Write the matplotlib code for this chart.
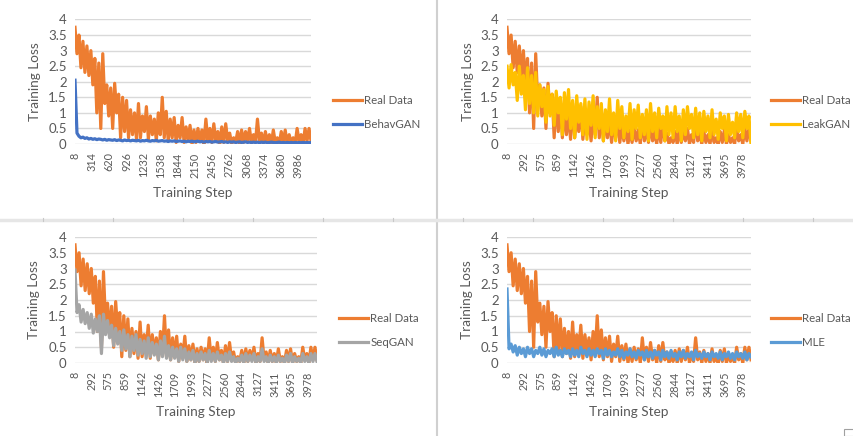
import numpy as np
import matplotlib
matplotlib.use("Agg")
import matplotlib.pyplot as plt
from matplotlib.lines import Line2D

plt.rcParams['font.family'] = ['Lato', 'DejaVu Sans']

# training loss (same real-data curve in each)
real_data = [
    3.75, 2.9, 3.5, 2.45, 3.3, 2.3, 3.15, 2.2, 3.0, 1.9,
    2.75, 1.0, 2.6, 0.5, 2.9, 1.3, 1.9, 0.9, 1.8, 0.5,
    1.95, 1.0, 1.6, 0.2, 1.5, 0.4, 1.4, 0.2, 1.1, 0.3,
    1.0, 0.15, 1.3, 0.2, 0.9, 0.4, 1.2, 0.15, 0.9, 0.3,
    0.8, 0.1, 1.0, 0.3, 1.5, 0.2, 1.05, 0.1, 0.8, 0.2,
    0.85, 0.05, 0.6, 0.2, 0.85, 0.05, 0.55, 0.1, 0.6, 0.0,
    0.45, 0.05, 0.5, 0.1, 0.45, 0.0, 0.8, 0.1, 0.5, 0.05,
    0.65, 0.1, 0.4, 0.0, 0.55, 0.05, 0.65, 0.1, 0.35, 0.0,
    0.2, 0.05, 0.4, 0.0, 0.45, 0.05, 0.4, 0.1, 0.5, 0.0,
    0.3, 0.05, 0.8, 0.1, 0.35, 0.0, 0.4, 0.05, 0.3, 0.0,
    0.45, 0.05, 0.2, 0.0, 0.4, 0.05, 0.45, 0.0, 0.3, 0.05,
    0.2, 0.0, 0.5, 0.1, 0.3, 0.0, 0.5, 0.1, 0.5, 0.1,
]
behavgan = [
    2.05, 0.35, 0.25, 0.2, 0.22, 0.18, 0.2, 0.16, 0.18, 0.15,
    0.17, 0.14, 0.16, 0.15, 0.13, 0.15, 0.12, 0.14, 0.13, 0.12,
    0.14, 0.11, 0.13, 0.12, 0.1, 0.13, 0.11, 0.12, 0.1, 0.12,
    0.11, 0.1, 0.12, 0.09, 0.11, 0.1, 0.12, 0.1, 0.09, 0.11,
    0.1, 0.12, 0.09, 0.1, 0.11, 0.09, 0.1, 0.08, 0.1, 0.09,
    0.1, 0.08, 0.09, 0.1, 0.08, 0.09, 0.07, 0.09, 0.08, 0.09,
    0.07, 0.08, 0.09, 0.07, 0.08, 0.06, 0.08, 0.07, 0.08, 0.06,
    0.07, 0.08, 0.06, 0.07, 0.08, 0.06, 0.07, 0.05, 0.07, 0.06,
    0.07, 0.05, 0.06, 0.07, 0.05, 0.06, 0.07, 0.05, 0.06, 0.05,
    0.06, 0.05, 0.06, 0.04, 0.06, 0.05, 0.06, 0.04, 0.05, 0.06,
    0.05, 0.04, 0.05, 0.06, 0.04, 0.05, 0.04, 0.05, 0.04, 0.05,
    0.04, 0.05, 0.04, 0.05, 0.04, 0.05, 0.04, 0.05, 0.04, 0.05,
]
leakgan = [
    2.5, 1.8, 2.55, 1.9, 2.3, 1.4, 2.5, 1.6, 2.2, 1.1,
    2.45, 1.3, 2.2, 1.0, 2.3, 0.9, 1.9, 1.2, 1.75, 0.7,
    1.85, 0.9, 1.6, 0.6, 1.7, 1.0, 1.5, 0.3, 1.65, 0.8,
    1.75, 0.5, 1.4, 0.2, 1.55, 0.7, 1.3, 0.3, 1.45, 0.15,
    1.35, 0.6, 1.55, 0.2, 1.2, 0.5, 1.3, 0.1, 1.1, 0.4,
    1.45, 0.3, 1.0, 0.1, 1.4, 0.5, 1.2, 0.2, 0.9, 0.4,
    1.3, 0.15, 1.1, 0.5, 1.25, 0.2, 0.95, 0.3, 1.1, 0.1,
    1.3, 0.4, 1.0, 0.2, 1.15, 0.5, 0.9, 0.1, 1.2, 0.3,
    1.0, 0.2, 1.2, 0.4, 0.9, 0.1, 1.1, 0.3, 1.2, 0.5,
    0.95, 0.2, 1.15, 0.3, 1.0, 0.1, 1.05, 0.4, 0.9, 0.2,
    1.1, 0.3, 0.8, 0.15, 1.0, 0.5, 0.9, 0.1, 0.95, 0.3,
    0.7, 0.2, 1.0, 0.4, 0.95, 0.2, 1.05, 0.5, 0.9, 0.0,
]
seqgan = [
    2.95, 1.6, 1.85, 1.3, 1.7, 1.25, 1.6, 1.1, 1.55, 0.95,
    1.4, 1.0, 1.5, 0.3, 1.55, 0.9, 1.35, 0.8, 1.2, 0.55,
    1.1, 0.6, 1.0, 0.4, 1.05, 0.45, 0.9, 0.2, 0.85, 0.4,
    0.9, 0.25, 0.75, 0.3, 0.7, 0.15, 0.8, 0.2, 0.65, 0.25,
    0.6, 0.1, 0.7, 0.2, 0.85, 0.15, 0.55, 0.1, 0.5, 0.15,
    0.45, 0.05, 0.5, 0.1, 0.45, 0.05, 0.35, 0.1, 0.4, 0.0,
    0.3, 0.05, 0.35, 0.1, 0.3, 0.0, 0.4, 0.05, 0.3, 0.05,
    0.35, 0.1, 0.25, 0.0, 0.3, 0.05, 0.35, 0.05, 0.2, 0.0,
    0.15, 0.05, 0.25, 0.0, 0.3, 0.05, 0.25, 0.05, 0.3, 0.0,
    0.2, 0.05, 0.45, 0.05, 0.2, 0.0, 0.25, 0.05, 0.2, 0.0,
    0.25, 0.05, 0.15, 0.0, 0.25, 0.05, 0.3, 0.0, 0.2, 0.05,
    0.15, 0.0, 0.3, 0.05, 0.2, 0.0, 0.3, 0.05, 0.3, 0.05,
]
mle = [
    2.35, 0.45, 0.6, 0.35, 0.55, 0.25, 0.5, 0.3, 0.45, 0.2,
    0.5, 0.3, 0.45, 0.2, 0.4, 0.3, 0.5, 0.25, 0.45, 0.2,
    0.4, 0.3, 0.45, 0.2, 0.5, 0.25, 0.4, 0.2, 0.45, 0.3,
    0.4, 0.2, 0.45, 0.25, 0.4, 0.2, 0.5, 0.3, 0.4, 0.2,
    0.45, 0.25, 0.4, 0.2, 0.45, 0.3, 0.4, 0.15, 0.45, 0.25,
    0.4, 0.2, 0.35, 0.25, 0.45, 0.2, 0.4, 0.15, 0.35, 0.25,
    0.45, 0.2, 0.35, 0.15, 0.4, 0.25, 0.35, 0.1, 0.4, 0.2,
    0.35, 0.15, 0.4, 0.25, 0.35, 0.1, 0.4, 0.2, 0.35, 0.15,
    0.4, 0.2, 0.3, 0.1, 0.35, 0.2, 0.4, 0.15, 0.3, 0.2,
    0.35, 0.1, 0.4, 0.2, 0.3, 0.15, 0.35, 0.2, 0.3, 0.1,
    0.35, 0.2, 0.3, 0.15, 0.35, 0.1, 0.3, 0.2, 0.35, 0.15,
    0.3, 0.1, 0.35, 0.2, 0.3, 0.15, 0.35, 0.1, 0.3, 0.2,
]

n = len(real_data)
# category positions (training steps) of the sampled points
steps_a = np.linspace(8, 4215, n)   # top-left chart
steps_b = np.linspace(8, 4135, n)   # other three charts

ticks_a = [8, 314, 620, 926, 1232, 1538, 1844, 2150, 2456, 2762, 3068, 3374, 3680, 3986]
ticks_b = [8, 292, 575, 859, 1142, 1426, 1709, 1993, 2277, 2560, 2844, 3127, 3411, 3695, 3978]
y_ticks = [0, 0.5, 1, 1.5, 2, 2.5, 3, 3.5, 4]

ORANGE = '#ED7D31'
TXT = '#595959'
GRID = '#D9D9D9'

W, H = 854, 436
fig = plt.figure(figsize=(W / 100, H / 100), dpi=100)

# panel: (left, top, right, bottom) in px, model name, values, colour, steps, ticks,
#        ylabel centre, xlabel centre, legend left/centre
panels = [
    ((75, 19.5, 311, 144), 'BehavGAN', behavgan, '#4472C4', steps_a, ticks_a,
     (35, 82), (193, 193), (333, 112.5)),
    ((507, 19.5, 751, 144), 'LeakGAN', leakgan, '#FFC000', steps_b, ticks_b,
     (468, 82), (629, 193), (771, 112.5)),
    ((75, 237, 317, 363), 'SeqGAN', seqgan, '#A5A5A5', steps_b, ticks_b,
     (34, 300), (196, 412), (339, 330.5)),
    ((507, 237, 751, 363), 'MLE', mle, '#5B9BD5', steps_b, ticks_b,
     (467, 300), (629, 412), (771, 330.5)),
]

for box, name, vals, col, steps, ticks, ylab, xlab, leg in panels:
    l, t, r, b = box
    ax = fig.add_axes([l / W, 1 - b / H, (r - l) / W, (b - t) / H])
    ax.plot(steps, real_data, color=ORANGE, lw=2.3, label='Real Data',
            solid_joinstyle='round', zorder=3)
    ax.plot(steps, vals, color=col, lw=2.3, label=name,
            solid_joinstyle='round', zorder=4)
    ax.set_xlim(steps[0], steps[-1])
    ax.set_ylim(0, 4)
    ax.set_yticks(y_ticks)
    ax.set_yticklabels(['0', '0.5', '1', '1.5', '2', '2.5', '3', '3.5', '4'])
    ax.set_xticks(ticks)
    ax.set_xticklabels([str(v) for v in ticks], rotation=90)
    ax.tick_params(axis='y', length=0, pad=6, labelsize=9.5, labelcolor=TXT)
    ax.tick_params(axis='x', length=0, pad=6, labelsize=7.8, labelcolor=TXT)
    ax.grid(axis='y', color=GRID, lw=1)
    ax.set_axisbelow(True)
    for s in ax.spines.values():
        s.set_visible(False)

    fig.text(ylab[0] / W, 1 - ylab[1] / H, 'Training Loss', rotation=90,
             ha='center', va='center', fontsize=9.8, color=TXT)
    fig.text(xlab[0] / W, 1 - xlab[1] / H, 'Training Step',
             ha='center', va='center', fontsize=9.8, color=TXT)
    ax.legend(loc='center left', bbox_to_anchor=(leg[0] / W, 1 - leg[1] / H),
              bbox_transform=fig.transFigure, frameon=False, borderpad=0,
              borderaxespad=0, handlelength=2.55, handletextpad=0.15,
              labelspacing=1.05, fontsize=8.3, labelcolor=TXT)

# sheet separators between the four charts
fig.add_artist(Line2D([437 / W, 437 / W], [0, 1], color='#D0D0D0', lw=1.5))
fig.add_artist(Line2D([0, 1], [1 - 220 / H, 1 - 220 / H], color='#E6E6E6', lw=2.5))
for xc in [43, 113, 183, 253, 323, 393, 463, 533, 603, 673, 743, 813]:
    fig.add_artist(Line2D([xc / W, xc / W], [1 - 218.5 / H, 1 - 221.5 / H],
                          color='#C8C8C8', lw=0.8))
fig.add_artist(plt.Rectangle((844 / W, 0), 10 / W, 7 / H, transform=fig.transFigure,
                             fill=False, edgecolor='#A0A0A0', lw=0.8))

fig.savefig('out.png', dpi=100)
